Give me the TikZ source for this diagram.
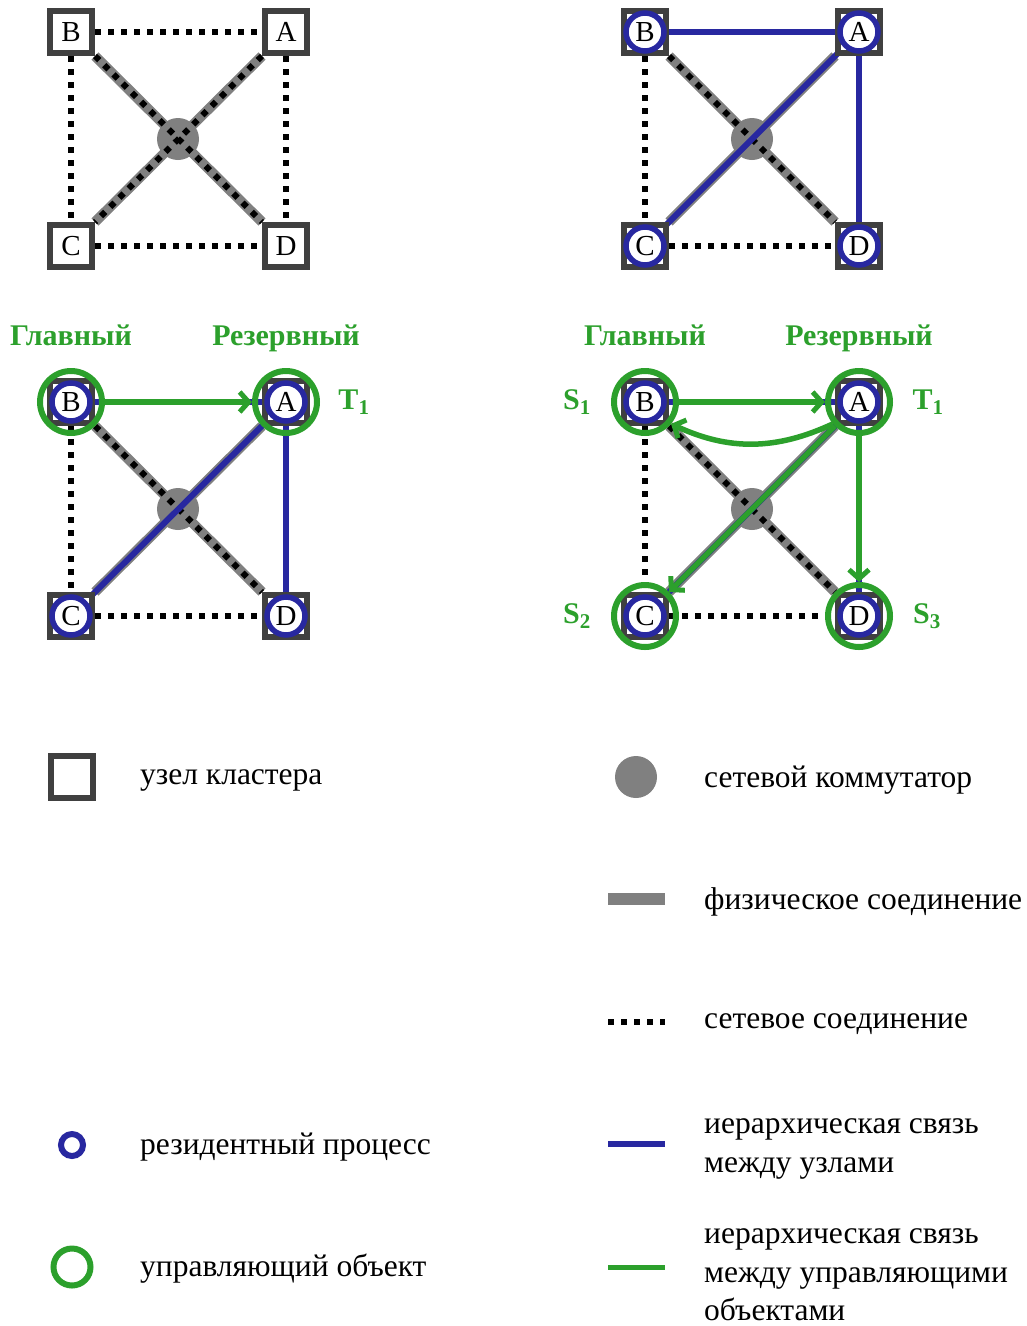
\documentclass[tikz,border=0pt]{standalone}
\usepackage{fontspec}
\setmainfont{Liberation Serif}
\usetikzlibrary{arrows.meta}
\definecolor{sqgray}{RGB}{64,64,64}
\definecolor{physgray}{RGB}{128,128,128}
\definecolor{procblue}{RGB}{40,40,160}
\definecolor{ctlgreen}{RGB}{44,160,44}
\pgfdeclarelayer{phys}
\pgfdeclarelayer{swl}
\pgfdeclarelayer{net}
\pgfdeclarelayer{top}
\pgfsetlayers{phys,swl,net,main,top}
\tikzset{
  sq/.style={draw=sqgray, line width=6pt, fill=white, rectangle, minimum size=42pt, inner sep=0pt,
    font=\fontsize{29}{32}\selectfont},
  switch/.style={circle, fill=physgray, minimum size=42pt, inner sep=0pt},
  proc/.style={circle, draw=procblue, line width=5.5pt, fill=white, minimum size=38pt, inner sep=0pt,
    font=\fontsize{29}{32}\selectfont},
  ctl/.style={circle, draw=ctlgreen, line width=6pt, minimum size=62pt, inner sep=0pt},
  physlink/.style={draw=physgray, line width=10pt},
  netlink/.style={draw=black, line width=6pt, dash pattern=on 6pt off 7pt},
  hierlink/.style={draw=procblue, line width=6pt},
  ctllink/.style={draw=ctlgreen, line width=5.5pt, -{Straight Barb[length=9pt,width=20pt,line width=5pt]}},
  role/.style={text=ctlgreen, font=\fontsize{30}{34}\selectfont\bfseries},
  rolehead/.style={role, anchor=base},
  legtext/.style={anchor=west, align=left, inner sep=0pt, font=\fontsize{31.5}{38.5}\selectfont},
}
\begin{document}
\begin{tikzpicture}[x=1pt, y=-1pt]
\useasboundingbox (0,0) rectangle (1027,1326);

% ---------- cluster 1: plain topology ----------
\node[sq] (b1) at (71,32) {B};
\node[sq] (a1) at (286,32) {A};
\node[sq] (c1) at (71,246) {C};
\node[sq] (d1) at (286,246) {D};
\begin{pgfonlayer}{swl}\node[switch] (s1) at (178,139) {};\end{pgfonlayer}
\begin{pgfonlayer}{phys}
  \draw[physlink] (b1.south east) -- (d1.north west);
  \draw[physlink] (a1.south west) -- (c1.north east);
\end{pgfonlayer}
\begin{pgfonlayer}{net}
  \draw[netlink] (b1) -- (a1);
  \draw[netlink] (b1) -- (c1);
  \draw[netlink] (a1) -- (d1);
  \draw[netlink] (c1) -- (d1);
  \draw[netlink] (b1.south east) -- (d1.north west);
  \draw[netlink] (a1.south west) -- (c1.north east);
\end{pgfonlayer}

% ---------- cluster 2: resident processes ----------
\node[sq] (b2) at (645,32) {};
\node[sq] (a2) at (859,32) {};
\node[sq] (c2) at (645,246) {};
\node[sq] (d2) at (859,246) {};
\begin{pgfonlayer}{top}
  \node[proc] (pb2) at (b2) {B};
  \node[proc] (pa2) at (a2) {A};
  \node[proc] (pc2) at (c2) {C};
  \node[proc] (pd2) at (d2) {D};
\end{pgfonlayer}
\begin{pgfonlayer}{swl}\node[switch] (s2) at (752,139) {};\end{pgfonlayer}
\begin{pgfonlayer}{phys}
  \draw[physlink] (b2.south east) -- (d2.north west);
  \draw[physlink] (a2.south west) -- (c2.north east);
\end{pgfonlayer}
\begin{pgfonlayer}{net}
  \draw[netlink] (b2) -- (c2);
  \draw[netlink] (c2) -- (d2);
  \draw[netlink] (b2.south east) -- (d2.north west);
  \draw[hierlink] (pb2) -- (pa2);
  \draw[hierlink] (pa2) -- (pd2);
  \draw[hierlink] (pa2) -- (pc2);
\end{pgfonlayer}

% ---------- cluster 3: one control object ----------
\node[rolehead] (main3) at (71,345) {Главный};
\node[rolehead] (res3) at (286,345) {Резервный};
\node[role] (t3) at (354,402) {T\textsubscript{1}};
\node[sq] (b3) at (71,402) {};
\node[sq] (a3) at (286,402) {};
\node[sq] (c3) at (71,616) {};
\node[sq] (d3) at (286,616) {};
\begin{pgfonlayer}{top}
  \node[proc] (pb3) at (b3) {B};
  \node[proc] (pa3) at (a3) {A};
  \node[proc] (pc3) at (c3) {C};
  \node[proc] (pd3) at (d3) {D};
  \node[ctl] (gb3) at (b3) {};
  \node[ctl] (ga3) at (a3) {};
  \draw[ctllink] (gb3) -- (ga3);
\end{pgfonlayer}
\begin{pgfonlayer}{swl}\node[switch] (s3) at (178,509) {};\end{pgfonlayer}
\begin{pgfonlayer}{phys}
  \draw[physlink] (b3.south east) -- (d3.north west);
  \draw[physlink] (a3.south west) -- (c3.north east);
\end{pgfonlayer}
\begin{pgfonlayer}{net}
  \draw[netlink] (b3) -- (c3);
  \draw[netlink] (c3) -- (d3);
  \draw[netlink] (b3.south east) -- (d3.north west);
  \draw[hierlink] (pb3) -- (pa3);
  \draw[hierlink] (pa3) -- (pd3);
  \draw[hierlink] (pa3) -- (pc3);
\end{pgfonlayer}

% ---------- cluster 4: control objects on every node ----------
\node[rolehead] (main4) at (645,345) {Главный};
\node[rolehead] (res4) at (859,345) {Резервный};
\node[role] (sl1) at (577,402) {S\textsubscript{1}};
\node[role] (t4) at (928,402) {T\textsubscript{1}};
\node[role] (sl2) at (577,616) {S\textsubscript{2}};
\node[role] (sl3) at (927,616) {S\textsubscript{3}};
\node[sq] (b4) at (645,402) {};
\node[sq] (a4) at (859,402) {};
\node[sq] (c4) at (645,616) {};
\node[sq] (d4) at (859,616) {};
\begin{pgfonlayer}{top}
  \node[proc] (pb4) at (b4) {B};
  \node[proc] (pa4) at (a4) {A};
  \node[proc] (pc4) at (c4) {C};
  \node[proc] (pd4) at (d4) {D};
  \node[ctl] (gb4) at (b4) {};
  \node[ctl] (ga4) at (a4) {};
  \node[ctl] (gc4) at (c4) {};
  \node[ctl] (gd4) at (d4) {};
  \draw[ctllink] (gb4) -- (ga4);
  \draw[ctllink] (ga4.-140) to[bend left=25] (gb4.-40);
  \draw[ctllink] (ga4) -- (gc4);
  \draw[ctllink] (ga4) -- (gd4);
\end{pgfonlayer}
\begin{pgfonlayer}{swl}\node[switch] (s4) at (752,509) {};\end{pgfonlayer}
\begin{pgfonlayer}{phys}
  \draw[physlink] (b4.south east) -- (d4.north west);
  \draw[physlink] (a4.south west) -- (c4.north east);
\end{pgfonlayer}
\begin{pgfonlayer}{net}
  \draw[netlink] (b4) -- (c4);
  \draw[netlink] (c4) -- (d4);
  \draw[netlink] (b4.south east) -- (d4.north west);
  \draw[hierlink] (pb4) -- (pa4);
  \draw[hierlink] (pa4) -- (pd4);
  \draw[hierlink] (pa4) -- (pc4);
\end{pgfonlayer}

% ---------- legend ----------
\node[sq, minimum size=42pt] (lsq) at (72,777) {};
\node[legtext] (lsqt) at (140,780) {узел кластера};

\node[switch] (lsw) at (636,777) {};
\node[legtext] (lswt) at (704,780) {сетевой коммутатор};

\coordinate (lph1) at (608,899);
\coordinate (lph2) at (665,899);
\draw[draw=physgray, line width=12pt] (lph1) -- (lph2);
\node[legtext] (lpht) at (704,902) {физическое соединение};

\coordinate (lnt1) at (608,1022);
\coordinate (lnt2) at (665,1022);
\draw[netlink] (lnt1) -- (lnt2);
\node[legtext] (lntt) at (704,1024) {сетевое соединение};

\node[circle, draw=procblue, line width=6pt, minimum size=22pt, inner sep=0pt] (lpr) at (72,1145) {};
\node[legtext] (lprt) at (140,1147) {резидентный процесс};

\coordinate (lhl1) at (608,1144);
\coordinate (lhl2) at (665,1144);
\draw[hierlink] (lhl1) -- (lhl2);
\node[legtext] (lhlt) at (704,1149) {иерархическая связь\\между узлами};

\node[circle, draw=ctlgreen, line width=6pt, minimum size=37pt, inner sep=0pt] (lct) at (72,1267) {};
\node[legtext] (lctt) at (140,1269) {управляющий объект};

\coordinate (lcl1) at (608,1267);
\coordinate (lcl2) at (665,1267);
\draw[draw=ctlgreen, line width=5pt] (lcl1) -- (lcl2);
\node[legtext] (lclt) at (704,1275) {иерархическая связь\\между управляющими\\объектами};
\end{tikzpicture}
\end{document}
